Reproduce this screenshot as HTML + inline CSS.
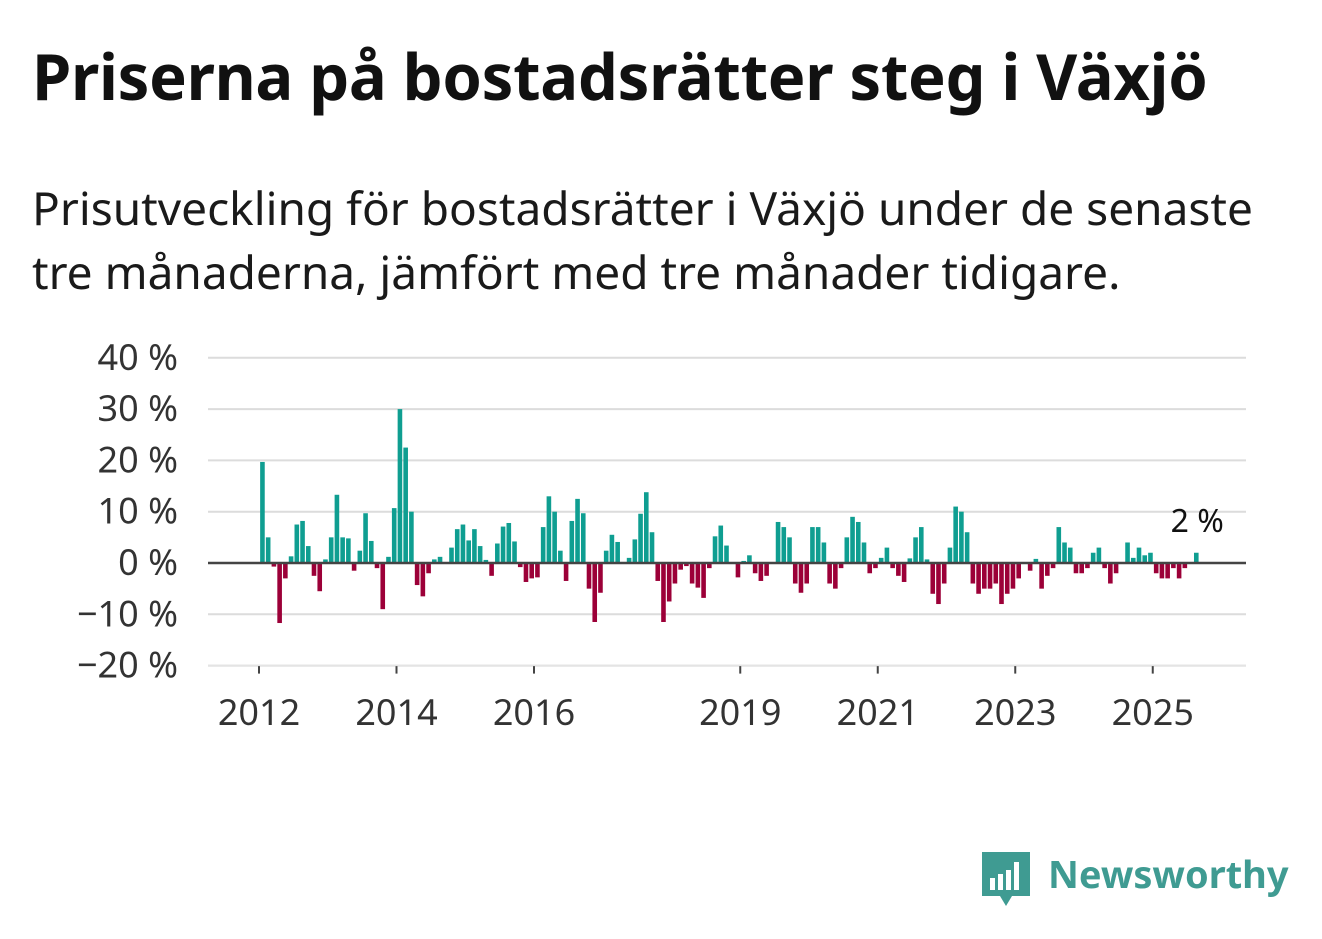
<!DOCTYPE html>
<html><head><meta charset="utf-8"><style>
body{margin:0;width:1322px;height:939px;background:#fff;font-family:"Noto Sans","Liberation Sans","DejaVu Sans",sans-serif;color:#111;overflow:hidden}
h1{position:absolute;left:32px;top:32px;margin:0;font-size:63.3px;font-weight:bold;letter-spacing:-0.3px;white-space:nowrap}
p{position:absolute;left:32px;top:176px;margin:0;font-size:46px;line-height:64px;color:#1a1a1a;width:1280px}
svg{position:absolute;left:0;top:0}
</style></head><body>
<h1>Priserna på bostadsrätter steg i Växjö</h1>
<p>Prisutveckling för bostadsrätter i Växjö under de senaste<br>tre månaderna, jämfört med tre månader tidigare.</p>
<svg id="chart" width="1322" height="939"></svg>
<div style="position:absolute;left:982px;top:850px;display:flex;align-items:center">
<svg width="48" height="58" style="position:static"><path d="M0 2h48v44H30l-6 10-6-10H0z" fill="#3f9b92"/><rect x="8" y="28" width="5" height="12" fill="#fff"/><rect x="16" y="24" width="5" height="16" fill="#fff"/><rect x="24" y="20" width="5" height="20" fill="#fff"/><rect x="32" y="12" width="5" height="28" fill="#fff"/></svg>
<span style="font-size:38px;font-weight:bold;color:#3f9b92;margin-left:18px;margin-top:-10px">Newsworthy</span></div>
<script>
const values=[19.7,5,-0.7,-11.7,-3,1.3,7.5,8.2,3.3,-2.5,-5.5,0.7,5,13.3,5,4.8,-1.5,2.4,9.7,4.3,-1,-9,1.2,10.7,30,22.5,10,-4.3,-6.5,-2,0.7,1.2,0,3,6.6,7.5,4.4,6.6,3.3,0.6,-2.5,3.8,7.1,7.8,4.2,-0.8,-3.7,-3,-2.8,7,13,10,2.4,-3.5,8.2,12.5,9.7,-5,-11.5,-5.8,2.4,5.5,4.1,0.2,1,4.6,9.6,13.8,6,-3.5,-11.5,-7.5,-4,-1.3,-0.6,-4,-4.8,-6.8,-1,5.2,7.3,3.4,0,-2.8,0.4,1.5,-2,-3.5,-2.5,0,8,7,5,-4,-5.8,-4,7,7,4,-4,-5,-1,5,9,8,4,-2,-1,1,3,-1,-2.5,-3.7,0.9,5,7,0.7,-6,-8,-4,3,11,10,6,-4,-6,-5,-5,-4,-8,-6,-5,-3,0,-1.5,0.8,-5,-2.5,-1,7,4,3,-2,-2,-1,2,3,-1,-4,-2,0,4,1,3,1.5,2,-2,-3,-3,-1,-3,-1,0,2];
const yTicks=[40,30,20,10,0,-10,-20];
const yTickLabels=["40 %","30 %","20 %","10 %","0 %","−10 %","−20 %"];
const xYears=[2012,2014,2016,2019,2021,2023,2025];
const startYear=2012;
const lastLabel="2 %";
const NS="http://www.w3.org/2000/svg";
const svg=document.getElementById('chart');
const x0=259,pxYear=68.75;
function xYear(y){return x0+(y-startYear)*pxYear;}
function xMonth(i){return x0+(i+0.6)*pxYear/12;}
function yS(v){return 563-v*5.13;}
function mk(t,a){const e=document.createElementNS(NS,t);for(const k in a)e.setAttribute(k,a[k]);svg.appendChild(e);return e;}
yTicks.forEach((v,i)=>{
 if(v!==0){const g=mk('line',{x1:208,x2:1246,y1:yS(v),y2:yS(v),stroke:'#dcdcdc','stroke-width':2});
 
 }
 const t=mk('text',{x:178,y:yS(v)+12,'text-anchor':'end','font-size':36,fill:'#333'});
 
 
 t.textContent=yTickLabels[i];
});
values.forEach((v,i)=>{
 const xc=xMonth(i);
 const r=mk('rect',{x:xc-2.3,y:Math.min(yS(v),yS(0)),width:4.6,height:Math.abs(yS(v)-yS(0)),fill:v>=0?'#0f9e91':'#9c0038'});
 
 
});
const z=mk('line',{x1:208,x2:1246,y1:yS(0),y2:yS(0),stroke:'#444','stroke-width':2.5});


xYears.forEach(y=>{
 const tk=mk('line',{x1:xYear(y),x2:xYear(y),y1:yS(-20),y2:yS(-20)+8,stroke:'#444','stroke-width':2});
 
 
 const t=mk('text',{x:xYear(y),y:725,'text-anchor':'middle','font-size':36,fill:'#333'});
 
 
 t.textContent=y;
});
const bl=mk('line',{x1:208,x2:1246,y1:yS(-20),y2:yS(-20),stroke:'#e6e6e6','stroke-width':1});


const lt=mk('text',{x:xMonth(values.length-1)+1,y:532,'text-anchor':'middle','font-size':32,fill:'#111'});


lt.textContent=lastLabel;
</script>
</body></html>
